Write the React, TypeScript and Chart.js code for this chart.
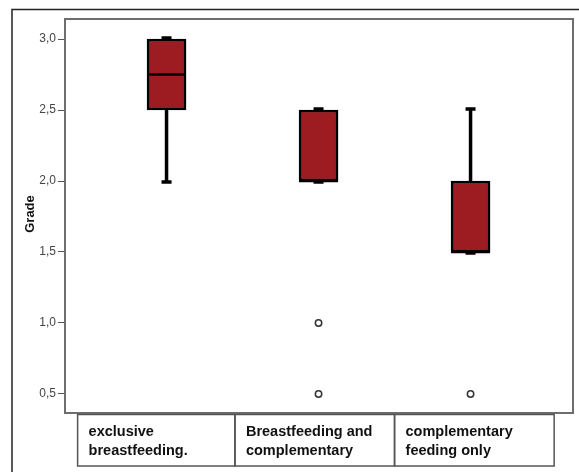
import React, { useEffect, useRef } from 'react';
import { Chart, registerables } from 'chart.js';

Chart.register(...registerables);

// ---- data ----
const categoryLines: string[][] = [
  ['exclusive', 'breastfeeding.'],
  ['Breastfeeding and', 'complementary'],
  ['complementary', 'feeding only'],
];
const q1 = [2.5, 2.0, 1.5];
const q3 = [3.0, 2.5, 2.0];
const medians = [2.75, 2.0, 1.5];
const whiskerLow = [2.0, 2.0, 1.5];
const whiskerHigh = [3.0, 2.5, 2.5];
const outlierGroup = [2, 2, 3];
const outlierValues = [1.0, 0.5, 0.5];
const yTicks = [0.5, 1.0, 1.5, 2.0, 2.5, 3.0];
const labelBoundaries = [0.415, 1.45, 2.5, 3.55];
const yTitle = 'Grade';

const FONT = '"Liberation Sans", Arial, sans-serif';

const boxPlugin = {
  id: 'boxExtras',
  beforeDatasetsDraw(chart: any) {
    const { ctx, scales } = chart;
    const x = scales.x;
    const y = scales.y;
    ctx.save();
    ctx.strokeStyle = '#000';
    ctx.lineWidth = 3.5;
    ctx.lineCap = 'butt';
    for (let i = 0; i < q1.length; i++) {
      const cx = x.getPixelForValue(i + 1);
      ctx.beginPath();
      ctx.moveTo(cx, y.getPixelForValue(whiskerLow[i]));
      ctx.lineTo(cx, y.getPixelForValue(q1[i]));
      ctx.moveTo(cx, y.getPixelForValue(q3[i]));
      ctx.lineTo(cx, y.getPixelForValue(whiskerHigh[i]));
      ctx.stroke();
      ctx.beginPath();
      const yl = y.getPixelForValue(whiskerLow[i]) + 1;
      const yh = y.getPixelForValue(whiskerHigh[i]) - 1;
      ctx.moveTo(cx - 5, yl);
      ctx.lineTo(cx + 5, yl);
      ctx.moveTo(cx - 5, yh);
      ctx.lineTo(cx + 5, yh);
      ctx.stroke();
    }
    ctx.restore();
  },
  afterDatasetsDraw(chart: any) {
    const { ctx, scales } = chart;
    const x = scales.x;
    const y = scales.y;
    ctx.save();
    ctx.strokeStyle = '#000';
    ctx.lineWidth = 2.5;
    for (let i = 0; i < medians.length; i++) {
      const cx = x.getPixelForValue(i + 1);
      const my = y.getPixelForValue(medians[i]);
      ctx.beginPath();
      ctx.moveTo(cx - 19.5, my);
      ctx.lineTo(cx + 19.5, my);
      ctx.stroke();
    }
    ctx.restore();
  },
  afterDraw(chart: any) {
    const { ctx, chartArea, scales } = chart;
    const x = scales.x;
    ctx.save();
    // outer frame
    ctx.strokeStyle = '#222';
    ctx.lineWidth = 1.5;
    ctx.beginPath();
    ctx.moveTo(12, chart.height);
    ctx.lineTo(12, 9.5);
    ctx.lineTo(chart.width, 9.5);
    ctx.stroke();
    // plot border
    ctx.strokeStyle = '#6e6e6e';
    ctx.lineWidth = 2;
    ctx.strokeRect(chartArea.left, chartArea.top, chartArea.right - chartArea.left, chartArea.bottom - chartArea.top);
    // category label boxes
    const top = chartArea.bottom + 1.5;
    const bottom = chartArea.bottom + 53;
    ctx.strokeStyle = '#555';
    ctx.lineWidth = 1.5;
    ctx.fillStyle = '#111';
    ctx.font = 'bold 14.5px ' + FONT;
    ctx.textBaseline = 'middle';
    ctx.textAlign = 'left';
    for (let i = 0; i < categoryLines.length; i++) {
      const l = x.getPixelForValue(labelBoundaries[i]);
      const r = x.getPixelForValue(labelBoundaries[i + 1]);
      ctx.strokeRect(l, top, r - l, bottom - top);
      categoryLines[i].forEach((line, k) => {
        ctx.fillText(line, l + 11, top + 17 + k * 19);
      });
    }
    // y title
    ctx.translate(30, 214);
    ctx.rotate(-Math.PI / 2);
    ctx.textAlign = 'center';
    ctx.font = 'bold 13px ' + FONT;
    ctx.fillText(yTitle, 0, 0);
    ctx.restore();
  },
};

export default function App() {
  const ref = useRef<HTMLCanvasElement | null>(null);
  useEffect(() => {
    document.body.style.margin = '0';
    const canvas = ref.current!;
    const chart = new Chart(canvas, {
      type: 'bar',
      data: {
        datasets: [
          {
            type: 'bar',
            data: q1.map((v, i) => ({ x: i + 1, y: [v, q3[i]] })) as any,
            backgroundColor: '#9c1c22',
            borderColor: '#000',
            borderWidth: 2.5,
            borderSkipped: false,
            barThickness: 39,
          } as any,
          {
            type: 'scatter',
            data: outlierValues.map((v, i) => ({ x: outlierGroup[i], y: v })),
            pointRadius: 3.2,
            pointBackgroundColor: '#fff',
            pointBorderColor: '#333',
            pointBorderWidth: 1.5,
          } as any,
        ],
      },
      options: {
        responsive: false,
        animation: false,
        layout: { padding: { left: 0, top: 19, right: 6, bottom: 59 } },
        plugins: { legend: { display: false }, tooltip: { enabled: false } },
        scales: {
          x: {
            type: 'linear',
            display: false,
            offset: false,
            grid: { offset: false },
            min: 0.332,
            max: 3.674,
          },
          y: {
            type: 'linear',
            min: 0.366,
            max: 3.141,
            afterBuildTicks: (s: any) => {
              s.ticks = yTicks.map((v) => ({ value: v }));
            },
            afterFit: (s: any) => {
              s.width = 65;
            },
            border: { display: false },
            grid: { drawOnChartArea: false, drawTicks: true, tickLength: 7, color: '#555', lineWidth: 1 },
            ticks: {
              padding: 2,
              color: '#444',
              font: { family: FONT, size: 12 },
              callback: (v: any) => Number(v).toFixed(1).replace('.', ','),
            },
          },
        },
      },
      plugins: [boxPlugin],
    });
    return () => chart.destroy();
  }, []);
  return <canvas ref={ref} width={579} height={472} style={{ display: 'block' }} />;
}
